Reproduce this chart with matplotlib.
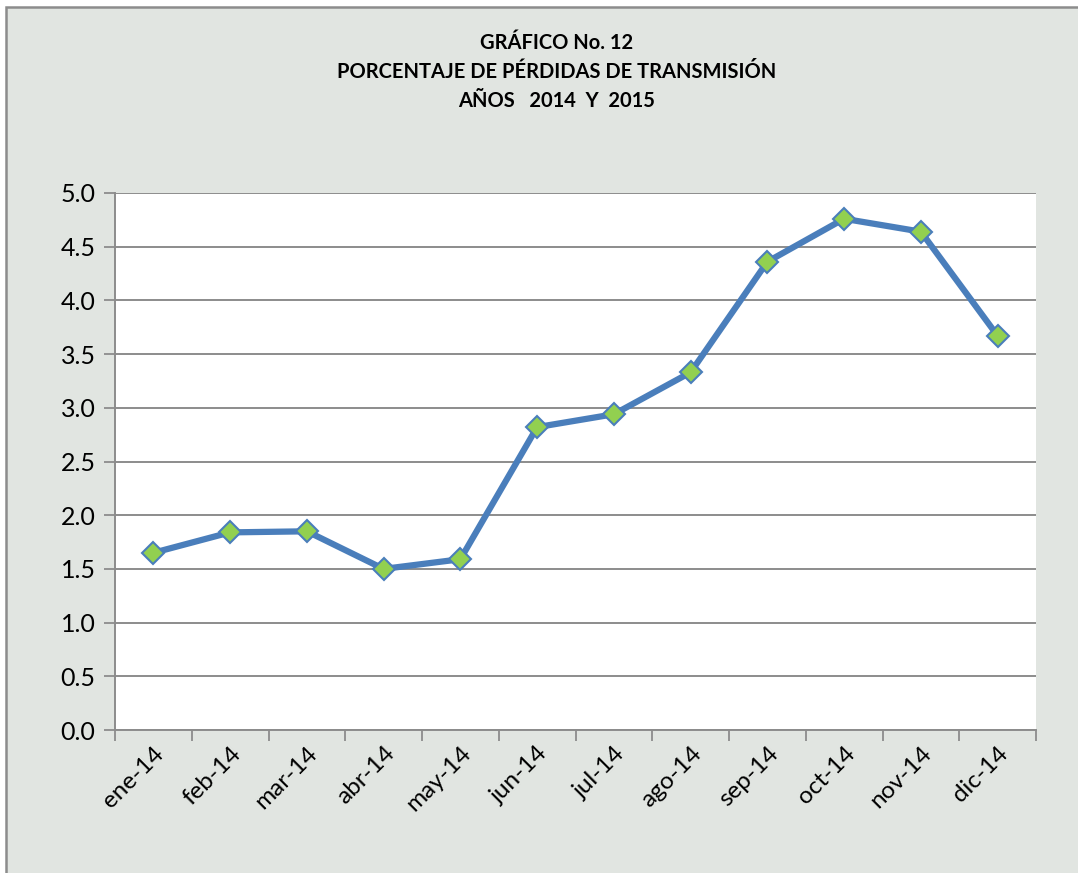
import matplotlib
matplotlib.use("Agg")
import matplotlib.pyplot as plt
from matplotlib.patches import Rectangle

months = ["ene-14", "feb-14", "mar-14", "abr-14", "may-14", "jun-14",
          "jul-14", "ago-14", "sep-14", "oct-14", "nov-14", "dic-14"]
values = [1.65, 1.84, 1.85, 1.50, 1.59, 2.82, 2.94, 3.33, 4.36, 4.76, 4.64, 3.67]
yticks = [0.0, 0.5, 1.0, 1.5, 2.0, 2.5, 3.0, 3.5, 4.0, 4.5, 5.0]
title_lines = ["GRÁFICO No. 12", "PORCENTAJE DE PÉRDIDAS DE TRANSMISIÓN", "AÑOS   2014  Y  2015"]

W, H = 1078, 873
fig = plt.figure(figsize=(W / 100, H / 100), dpi=100, facecolor="white")
bg = "#E1E5E1"
fig.patches.append(Rectangle((6 / W, -0.1), 1.2, 1.1 - 7 / H, transform=fig.transFigure,
                             facecolor=bg, edgecolor="#8C8C8C", linewidth=1.8, zorder=-10))

ax = fig.add_axes([115 / W, 1 - 730 / H, (1036 - 115) / W, (730 - 193) / H])
ax.set_facecolor("white")

x = list(range(len(months)))
ax.plot(x, values, color="#4A7EBB", linewidth=4.5, zorder=3,
        marker="D", markersize=11, markerfacecolor="#92D050",
        markeredgecolor="#4A7EBB", markeredgewidth=1.5)

ax.set_xlim(-0.5, len(months) - 0.5)
ax.set_ylim(0, 5.0)
ax.set_yticks(yticks)
ax.set_yticklabels([f"{v:.1f}" for v in yticks], fontsize=18, family="Lato")
ax.yaxis.grid(True, color="#8C8C8C", linewidth=1.4)
ax.set_axisbelow(True)

ax.set_xticks([i - 0.5 for i in range(len(months) + 1)])
ax.set_xticklabels([])
ax.set_xticks(x, minor=True)
ax.set_xticklabels(months, minor=True, rotation=45, ha="right",
                   rotation_mode="anchor", fontsize=17.5, family="Lato")
ax.tick_params(axis="x", which="minor", length=0, pad=9)
ax.tick_params(axis="x", which="major", length=8, width=1.3, color="#8C8C8C", direction="out")
ax.tick_params(axis="y", length=8, width=1.3, color="#8C8C8C", direction="out", pad=6)

for side in ["top", "right"]:
    ax.spines[side].set_visible(False)
for side in ["left", "bottom"]:
    ax.spines[side].set_color("#8C8C8C")
    ax.spines[side].set_linewidth(1.4)

ys = [43, 72, 101]
for t, yy in zip(title_lines, ys):
    fig.text(557 / W, 1 - yy / H, t, ha="center", va="center", fontsize=14.5,
             fontweight="bold", family="Lato")

fig.savefig("out.png", dpi=100, facecolor=fig.get_facecolor())
